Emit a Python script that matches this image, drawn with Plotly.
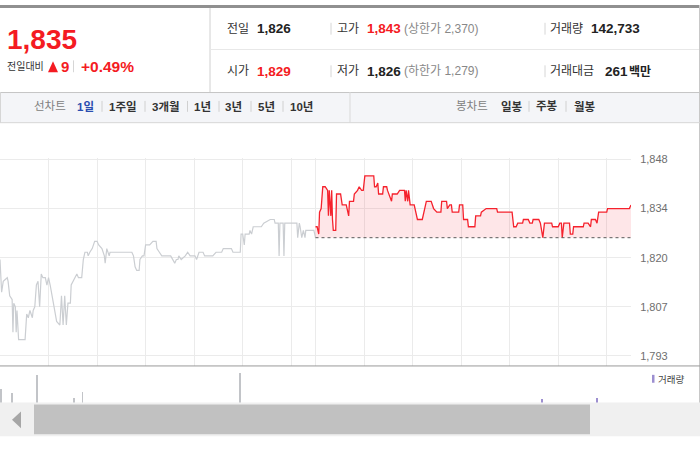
import plotly.graph_objects as go

# ---------------- data ----------------
current_price = 1835
prev_close = 1826
change = 9
change_pct = 0.49
open_price = 1829
high_price = 1843
low_price = 1826
upper_limit = 2370
lower_limit = 1279
volume_total = 142733
amount_mil = 261

# previous session (minutes after 09:00) and prices
prev_minutes = [0, 2, 4, 9, 10, 12, 15, 16, 17, 19, 20, 21, 23, 31, 33, 35, 37, 40, 41, 43,
                45, 47, 49, 51, 53, 56, 58, 60, 62, 64, 66, 70, 74, 76, 78, 80, 82, 84, 87, 88,
                90, 93, 95, 97, 101, 103, 105, 108, 109, 111, 114, 117, 120, 122, 126, 129, 130, 132, 135, 136,
                163, 165, 167, 169, 172, 173, 176, 178, 180, 185, 189, 193, 194, 197, 200, 211, 214, 216, 218, 220,
                221, 224, 229, 232, 235, 241, 243, 246, 251, 253, 260, 263, 267, 274, 276, 286, 288, 297, 298, 300,
                302, 303, 308, 309, 311, 313, 319, 323, 326, 334, 339, 340, 344, 345, 346, 350, 351, 352, 367, 368,
                370, 371, 373, 375, 377, 378, 388, 390]
prev_prices = [1820, 1811, 1814, 1815, 1814, 1810, 1809, 1800, 1808, 1807, 1800, 1806, 1798, 1798, 1805, 1804, 1806, 1804, 1806, 1807,
               1813, 1814, 1807, 1816, 1815, 1815, 1813, 1815, 1813, 1810, 1808, 1803, 1802, 1810, 1802, 1810, 1802, 1808, 1808, 1813,
               1814, 1815, 1816, 1815, 1815, 1820, 1822, 1822, 1821, 1822, 1823, 1825, 1825, 1824, 1823, 1821, 1819, 1823, 1821, 1822,
               1822, 1821, 1818, 1817, 1817, 1820, 1821, 1821, 1824, 1824, 1825, 1825, 1823, 1822, 1821, 1821, 1820, 1819, 1820, 1820,
               1821, 1820, 1821, 1822, 1821, 1821, 1820, 1822, 1822, 1821, 1821, 1821, 1822, 1822, 1823, 1823, 1822, 1822, 1827, 1827,
               1824, 1827, 1827, 1828, 1827, 1829, 1829, 1829, 1830, 1831, 1831, 1830, 1830, 1821, 1830, 1830, 1821, 1830, 1830, 1826,
               1830, 1829, 1826, 1828, 1826, 1828, 1828, 1826]

# today's session (minutes after 09:00) and prices
today_minutes = [0, 2, 4, 5, 7, 9, 12, 14, 15, 16, 17, 19, 20, 21, 22, 25, 26, 31, 33, 38,
                 41, 42, 47, 48, 52, 54, 57, 59, 61, 72, 73, 75, 77, 78, 83, 84, 88, 89, 91, 94,
                 95, 101, 104, 110, 111, 112, 114, 115, 117, 122, 126, 132, 135, 137, 143, 146, 150, 155, 156, 162,
                 163, 166, 168, 169, 177, 178, 182, 183, 188, 189, 197, 198, 204, 205, 211, 224, 225, 243, 245, 248,
                 250, 256, 257, 263, 265, 268, 269, 276, 278, 281, 283, 292, 293, 300, 302, 304, 305, 307, 314, 315,
                 318, 319, 331, 332, 337, 340, 341, 346, 348, 350, 360, 361, 388, 390]
today_prices = [1829, 1829, 1827, 1833, 1834, 1840, 1840, 1839, 1839, 1832, 1839, 1832, 1839, 1831, 1828, 1828, 1838, 1838, 1835, 1835,
                1832, 1836, 1836, 1838, 1839, 1840, 1839, 1839, 1843, 1843, 1840, 1840, 1841, 1838, 1838, 1840, 1840, 1839, 1838, 1836,
                1838, 1838, 1839, 1839, 1836, 1839, 1836, 1839, 1835, 1835, 1831, 1831, 1834, 1836, 1836, 1834, 1833, 1833, 1836, 1836,
                1834, 1835, 1835, 1833, 1833, 1835, 1835, 1831, 1831, 1829, 1829, 1832, 1832, 1833, 1834, 1834, 1833, 1833, 1829, 1829,
                1830, 1830, 1831, 1831, 1830, 1830, 1831, 1831, 1830, 1826, 1830, 1830, 1829, 1829, 1830, 1830, 1826, 1830, 1830, 1827,
                1827, 1829, 1829, 1830, 1830, 1829, 1831, 1831, 1830, 1833, 1833, 1834, 1834, 1835]

# volume spikes (minutes after 09:00, shares)
prev_vol_minutes = [1, 15, 46, 91, 102, 297]
prev_vol_values = [28000, 18600, 56000, 10000, 20600, 60600]
today_vol_minutes = [280, 348]
today_vol_values = [6600, 8600]

price_ticks = [1793.5, 1807.0, 1820.5, 1834.0, 1847.5]
price_tick_labels = ["1,793", "1,807", "1,820", "1,834", "1,848"]

session_len = 390
hour_marks = [0, 60, 120, 180, 240, 300, 360]

line_tabs = ["1일", "1주일", "3개월", "1년", "3년", "5년", "10년"]
candle_tabs = ["일봉", "주봉", "월봉"]

# ---------------- helpers ----------------
W, H = 700, 450
SANS = "Liberation Sans, Noto Sans CJK KR, sans-serif"
RED = "#f41b22"
DARK = "#333333"


def px(x):
    return x / W


def py(y):
    return 1 - y / H


shapes = []
annotations = []


def rect(x0, y0, x1, y1, fill, line=None):
    shapes.append(dict(type="rect", xref="paper", yref="paper", x0=px(x0), y0=py(y0), x1=px(x1), y1=py(y1),
                       fillcolor=fill, line=dict(width=0 if line is None else 1, color=line or fill), layer="below"))


def hline(x0, x1, y, color, width=1):
    shapes.append(dict(type="line", xref="paper", yref="paper", x0=px(x0), x1=px(x1), y0=py(y), y1=py(y),
                       line=dict(color=color, width=width)))


def vline(x, y0, y1, color, width=1):
    shapes.append(dict(type="line", xref="paper", yref="paper", x0=px(x), x1=px(x), y0=py(y0), y1=py(y1),
                       line=dict(color=color, width=width)))


def text(x, y, s, size, color, bold=False, anchor="left", family=SANS):
    annotations.append(dict(xref="paper", yref="paper", x=px(x), y=py(y),
                            text=f"<b>{s}</b>" if bold else s, showarrow=False,
                            xanchor=anchor, yanchor="middle", borderpad=0,
                            font=dict(size=size, color=color, family=family)))


def fmt(v):
    return f"{v:,}"


# ---------------- traces ----------------
fig = go.Figure()
today_x = [session_len + m for m in today_minutes]
base_x = [session_len, 2 * session_len]
base_y = [prev_close, prev_close]

fig.add_trace(go.Scatter(x=prev_minutes, y=prev_prices, mode="lines",
                         line=dict(color="#cbced2", width=1.2), hoverinfo="skip"))
# invisible baseline for the fill
fig.add_trace(go.Scatter(x=base_x, y=base_y, mode="lines",
                         line=dict(color="rgba(0,0,0,0)", width=0), hoverinfo="skip"))
fig.add_trace(go.Scatter(x=today_x, y=today_prices, mode="lines",
                         line=dict(color="#f5222d", width=1.3), fill="tonexty",
                         fillcolor="rgba(247,60,75,0.13)", hoverinfo="skip"))
# dotted previous-close line on top
fig.add_trace(go.Scatter(x=base_x, y=base_y, mode="lines",
                         line=dict(color="#5a5a5a", width=1, dash="dot"), hoverinfo="skip"))

fig.add_trace(go.Bar(x=prev_vol_minutes, y=prev_vol_values, width=1.2, marker=dict(color="#c2c4c8", line=dict(width=0)),
                     xaxis="x2", yaxis="y2", hoverinfo="skip"))
fig.add_trace(go.Bar(x=[session_len + m for m in today_vol_minutes], y=today_vol_values, width=1.2,
                     marker=dict(color="#9d8fd0", line=dict(width=0)), xaxis="x2", yaxis="y2", hoverinfo="skip"))

grid_x = hour_marks + [session_len + m for m in [0] + hour_marks[1:]]

plot_right = 631
dom_x = [0, px(plot_right)]
y_top_px, y_bot_px = 155, 365
px_per_won = 3.68
base_px = 235.3
y_hi = prev_close + (base_px - y_top_px) / px_per_won
y_lo = prev_close - (y_bot_px - base_px) / px_per_won

# ---------------- decoration ----------------
# top strip & header
rect(0, 0, 700, 3, "#909090")
vline(210, 3, 88, "#d0d0d0")
hline(210, 700, 45, "#e8e8e8")
vline(699.5, 0, 402, "#c8c8c8")

text(6, 35, fmt(current_price), 28, RED, bold=True)
text(6, 62, "전일대비", 10, DARK)
shapes.append(dict(type="path", xref="paper", yref="paper",
                   path=f"M {px(48)} {py(68)} L {px(58)} {py(68)} L {px(53)} {py(57)} Z",
                   fillcolor=RED, line=dict(width=0)))
text(59.5, 62, str(change), 15, RED, bold=True)
vline(73.5, 56, 68, "#d6d6d6")
text(80, 62, f"+{change_pct:.2f}%", 15.5, RED, bold=True)

row1, row2 = 24, 67
text(226, row1, "전일", 12, DARK)
text(256, row1, fmt(prev_close), 13.5, "#222222", bold=True)
vline(331, row1 - 6, row1 + 6, "#d6d6d6")
text(336, row1, "고가", 12, DARK)
text(366, row1, fmt(high_price), 13.5, RED, bold=True)
text(403, row1, f"(상한가 {fmt(upper_limit)})", 12, "#888888")
vline(545, row1 - 6, row1 + 6, "#d6d6d6")
text(549, row1, "거래량", 12, DARK)
text(590, row1, fmt(volume_total), 13.5, "#222222", bold=True)

text(226, row2, "시가", 12, DARK)
text(256, row2, fmt(open_price), 13.5, RED, bold=True)
vline(331, row2 - 6, row2 + 6, "#d6d6d6")
text(336, row2, "저가", 12, DARK)
text(366, row2, fmt(low_price), 13.5, "#222222", bold=True)
text(403, row2, f"(하한가 {fmt(lower_limit)})", 12, "#888888")
vline(545, row2 - 6, row2 + 6, "#d6d6d6")
text(549, row2, "거래대금", 12, DARK)
text(604, row2, fmt(amount_mil), 13.5, "#222222", bold=True)
text(628, row2 + 1, "백만", 12, "#222222", bold=True)

# tab bar
rect(0, 88, 700, 119, "#f4f5f8")
hline(0, 700, 88.5, "#c6c6c6")
hline(0, 700, 119, "#d6d6d6")
vline(0.5, 88, 119, "#d6d6d6")
vline(350, 88, 119, "#d9d9d9")
tab_y = 102.5
text(33, tab_y, "선차트", 11.5, "#808080")
tab_x = [76, 108, 151, 193, 224, 257, 289]
seps = [102, 145, 187.5, 219, 251, 283]
for i, (lbl, x) in enumerate(zip(line_tabs, tab_x)):
    text(x, tab_y, lbl, 11.5, "#2a4db0" if i == 0 else "#333333", bold=True)
for s in seps:
    vline(s, 97, 108, "#d0d0d0")
text(455, tab_y, "봉차트", 11.5, "#808080")
for lbl, x in zip(candle_tabs, [500, 535, 573]):
    text(x, tab_y, lbl, 11.5, "#333333", bold=True)
for s in [529, 566]:
    vline(s, 97, 108, "#d0d0d0")

# plot frame & volume legend
hline(0, 700, 365, "#9a9a9a")
rect(652, 374, 654.5, 382, "#9d8fd0")
text(657, 378.5, "거래량", 9.5, "#444444")

# scrollbar
rect(0, 402, 700, 436, "#f0f0f0")
rect(34, 404, 590, 434, "#c1c1c1")
shapes.append(dict(type="path", xref="paper", yref="paper",
                   path=f"M {px(12)} {py(419.5)} L {px(21)} {py(411)} L {px(21)} {py(428)} Z",
                   fillcolor="#a6a6a6", line=dict(width=0)))

fig.update_layout(
    width=W, height=H, margin=dict(l=0, r=0, t=0, b=0),
    paper_bgcolor="white", plot_bgcolor="rgba(0,0,0,0)",
    showlegend=False, shapes=shapes, annotations=annotations, bargap=0,
    xaxis=dict(domain=dom_x, range=[0, 2 * session_len], tickvals=grid_x, showticklabels=False,
               showgrid=True, gridcolor="#ebebeb", gridwidth=1, zeroline=False, showline=False,
               ticks="", fixedrange=True, anchor="y"),
    yaxis=dict(domain=[py(y_bot_px), py(y_top_px)], range=[y_lo, y_hi], side="right",
               tickvals=price_ticks, ticktext=price_tick_labels,
               tickfont=dict(size=11, color="#6e6e6e", family=SANS),
               showgrid=True, gridcolor="#ebebeb", gridwidth=1, zeroline=False, showline=False,
               ticks="outside", ticklen=6, tickcolor="rgba(0,0,0,0)", fixedrange=True, anchor="x"),
    xaxis2=dict(domain=dom_x, range=[0, 2 * session_len], matches="x", showticklabels=False, showgrid=False,
                zeroline=False, showline=False, anchor="y2"),
    yaxis2=dict(domain=[py(402), py(365)], range=[0, 74000], showticklabels=False, showgrid=False,
                zeroline=False, showline=False, anchor="x2"),
)

fig.write_html("out.html", config={"displayModeBar": False},
               post_script="document.body.style.margin='0';document.body.style.overflow='hidden';")
